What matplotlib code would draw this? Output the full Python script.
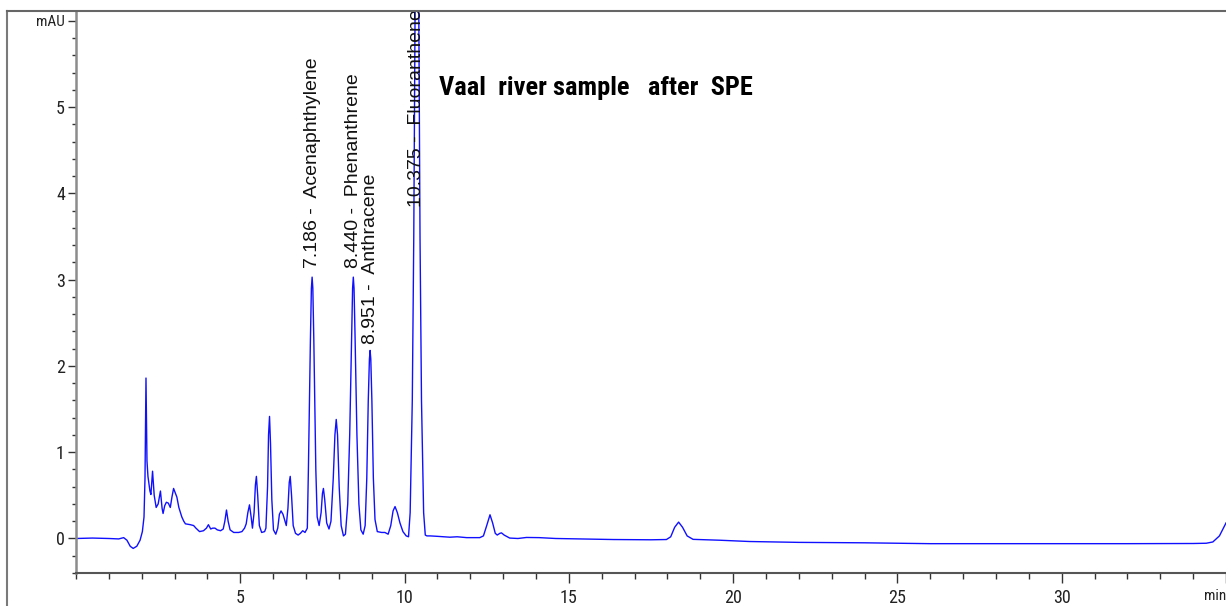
import matplotlib
matplotlib.use("Agg")
import matplotlib.pyplot as plt
from matplotlib import font_manager as fm
from matplotlib.lines import Line2D
from matplotlib.ticker import MultipleLocator, FixedLocator

# ---------------- data ----------------
time_min = [
    0.0, 0.5, 1.0, 1.3, 1.45, 1.55, 1.65, 1.74, 1.85, 1.95, 2.02, 2.07, 2.10, 2.13, 2.16,
    2.19, 2.25, 2.28, 2.33, 2.38, 2.44, 2.50, 2.57, 2.62, 2.65, 2.70, 2.75, 2.81, 2.87,
    2.92, 2.97, 3.03, 3.07, 3.13, 3.22, 3.28, 3.33, 3.48, 3.58, 3.65, 3.76, 3.88, 3.97,
    4.03, 4.10, 4.16, 4.23, 4.30, 4.40, 4.48, 4.53, 4.58, 4.63, 4.69, 4.80, 4.95, 5.05,
    5.13, 5.18, 5.23, 5.28, 5.33, 5.37, 5.42, 5.46, 5.49, 5.53, 5.58, 5.65, 5.74, 5.78,
    5.83, 5.86, 5.89, 5.92, 5.96, 6.01, 6.08, 6.14, 6.19, 6.24, 6.30, 6.36, 6.40, 6.45,
    6.49, 6.52, 6.56, 6.61, 6.68, 6.76, 6.83, 6.90, 6.97, 7.04, 7.073, 7.134, 7.164,
    7.186, 7.208, 7.238, 7.299, 7.34, 7.40, 7.46, 7.50, 7.53, 7.57, 7.63, 7.70, 7.76,
    7.83, 7.88, 7.92, 7.96, 8.01, 8.07, 8.14, 8.20, 8.27, 8.33, 8.39, 8.418, 8.44, 8.462,
    8.49, 8.55, 8.61, 8.67, 8.74, 8.80, 8.85, 8.895, 8.93, 8.951, 8.972, 9.005, 9.05,
    9.10, 9.17, 9.30, 9.40, 9.50, 9.58, 9.65, 9.71, 9.78, 9.86, 9.95, 10.05, 10.12, 10.17,
    10.235, 10.28, 10.317, 10.375, 10.433, 10.47, 10.515, 10.58, 10.63, 10.68, 10.78,
    11.0, 11.38, 11.6, 11.89, 12.29, 12.40, 12.50, 12.60, 12.68, 12.76, 12.82, 12.90,
    12.95, 13.03, 13.2, 13.45, 13.71, 14.1, 14.6, 15.33, 16.35, 17.5, 17.97, 18.1, 18.22,
    18.34, 18.46, 18.6, 18.78, 19.59, 20.5, 22.0, 24.0, 26.0, 28.0, 30.0, 32.0, 34.0,
    34.4, 34.6, 34.8, 35.0,
]
absorbance_mau = [
    0.0, 0.005, 0.0, -0.005, 0.01, -0.02, -0.09, -0.115, -0.09, -0.02, 0.08, 0.25, 0.7, 1.86, 0.9,
    0.72, 0.55, 0.51, 0.78, 0.5, 0.36, 0.40, 0.55, 0.35, 0.29, 0.38, 0.42, 0.41, 0.36,
    0.48, 0.58, 0.52, 0.48, 0.36, 0.25, 0.20, 0.17, 0.16, 0.15, 0.12, 0.08, 0.09, 0.12,
    0.16, 0.11, 0.12, 0.12, 0.10, 0.09, 0.11, 0.20, 0.33, 0.20, 0.10, 0.07, 0.07, 0.08,
    0.12, 0.17, 0.30, 0.39, 0.25, 0.12, 0.30, 0.62, 0.72, 0.50, 0.15, 0.07, 0.08, 0.12,
    0.60, 1.20, 1.415, 1.10, 0.45, 0.10, 0.05, 0.12, 0.28, 0.32, 0.28, 0.20, 0.15, 0.35,
    0.65, 0.72, 0.50, 0.15, 0.06, 0.04, 0.06, 0.09, 0.07, 0.12, 0.80, 2.30, 2.90,
    3.03, 2.90, 2.30, 0.80, 0.25, 0.15, 0.30, 0.52, 0.58, 0.45, 0.18, 0.11, 0.20,
    0.70, 1.20, 1.38, 1.20, 0.60, 0.15, 0.03, 0.05, 0.40, 1.20, 2.40, 2.90, 3.03, 2.90,
    2.40, 1.20, 0.40, 0.10, 0.05, 0.15, 0.70, 1.60, 2.08, 2.18, 2.08, 1.60, 0.70,
    0.22, 0.08, 0.07, 0.07, 0.05, 0.15, 0.32, 0.37, 0.30, 0.18, 0.08, 0.03, 0.02, 0.30,
    1.60, 3.50, 6.10, 8.00, 6.10, 3.50, 1.60, 0.30, 0.04, 0.03, 0.03,
    0.025, 0.015, 0.02, 0.01, 0.01, 0.03, 0.15, 0.275, 0.18, 0.06, 0.04, 0.06,
    0.065, 0.04, 0.005, 0.0, 0.012, 0.01, 0.0, -0.005, -0.012, -0.015, -0.012, 0.02, 0.13,
    0.19, 0.13, 0.03, -0.01, -0.02, -0.035, -0.045, -0.05, -0.06, -0.06, -0.06, -0.06, -0.058,
    -0.055, -0.04, 0.03, 0.18,
]

peak_times = [7.186, 8.440, 8.951, 10.375]
peak_names = ["Acenaphthylene", "Phenanthrene", "Anthracene", "Fluoranthene"]
label_bottoms = [3.13, 3.13, 2.26, 3.84]   # mAU where each rotated label starts

x_major = [5, 10, 15, 20, 25, 30, 35]
x_major_labels = ["5", "10", "15", "20", "25", "30", "min"]
y_major = [0, 1, 2, 3, 4, 5, 6]
y_major_labels = ["0", "1", "2", "3", "4", "5", "mAU"]

title_text = "Vaal  river sample   after  SPE"

# ---------------- fonts ----------------
def _is_condensed(f):
    st = f.stretch
    if "Narrow" in f.name or "Condensed" in f.name:
        return True
    if isinstance(st, str) and "condensed" in st:
        return True
    if isinstance(st, (int, float)) and st < 500:
        return True
    return False

def _wnum(w):
    if isinstance(w, (int, float)):
        return w
    return {"bold": 700, "semibold": 600, "demibold": 600, "heavy": 800,
            "black": 900, "extra bold": 800}.get(str(w).lower(), 400)

cond = [f for f in fm.fontManager.ttflist
        if _is_condensed(f) and f.style == "normal"]
pref = ["Liberation Sans Narrow", "Arial Narrow", "Roboto Condensed",
        "Open Sans Condensed", "Noto Sans", "Open Sans", "Roboto", "DejaVu Sans"]
cond.sort(key=lambda f: pref.index(f.name) if f.name in pref else len(pref))
cond_bold = [f for f in cond if _wnum(f.weight) >= 600]
cond_reg = [f for f in cond if _wnum(f.weight) < 600]

if cond_bold:
    title_fp = fm.FontProperties(fname=cond_bold[0].fname, size=19)
else:
    title_fp = fm.FontProperties(family=["Liberation Sans", "DejaVu Sans"],
                                 weight="bold", size=16)
if cond_reg:
    tick_fp = fm.FontProperties(fname=cond_reg[0].fname, size=13)
    unit_fp = fm.FontProperties(fname=cond_reg[0].fname, size=11)
else:
    tick_fp = fm.FontProperties(family=["Liberation Sans", "DejaVu Sans"], size=12)
    unit_fp = fm.FontProperties(family=["Liberation Sans", "DejaVu Sans"], size=10)
regular_fam = ["Liberation Sans", "DejaVu Sans"]

# ---------------- figure ----------------
W, H = 1226, 606
fig = plt.figure(figsize=(W / 100, H / 100), dpi=100)
fig.patch.set_facecolor("white")

ax_left, ax_right, ax_top, ax_bottom = 76, 1226, 11, 573
ax = fig.add_axes([ax_left / W, 1 - ax_bottom / H,
                   (ax_right - ax_left) / W, (ax_bottom - ax_top) / H])

ax.plot(time_min, absorbance_mau, color="#1010ff", lw=1.0, solid_joinstyle="round")

ax.set_xlim(0, 35)
ax.set_ylim(-0.4, 6.115)

for s in ("top", "right"):
    ax.spines[s].set_visible(False)
ax.spines["left"].set_color("#8c8c8c")
ax.spines["left"].set_linewidth(1.8)
ax.spines["bottom"].set_color("#555555")
ax.spines["bottom"].set_linewidth(1.5)

ax.xaxis.set_major_locator(FixedLocator(x_major))
ax.set_xticklabels(x_major_labels)
ax.xaxis.set_minor_locator(MultipleLocator(1))
ax.yaxis.set_major_locator(FixedLocator(y_major))
ax.set_yticklabels(y_major_labels)
ax.yaxis.set_minor_locator(MultipleLocator(0.2))

ax.tick_params(axis="x", which="major", direction="out", length=7.5, width=1.0,
               color="#333333", pad=4)
ax.tick_params(axis="x", which="minor", direction="out", length=4.5, width=1.0,
               color="#333333")
ax.tick_params(axis="y", which="major", direction="out", length=5.5, width=1.0,
               color="#333333", pad=2.5)
ax.tick_params(axis="y", which="minor", direction="out", length=3.0, width=1.0,
               color="#333333")
for lab in ax.get_xticklabels() + ax.get_yticklabels():
    lab.set_fontproperties(tick_fp)
    lab.set_color("#222222")
ax.get_yticklabels()[-1].set_fontproperties(unit_fp)
ax.get_xticklabels()[-1].set_fontproperties(unit_fp)
ax.get_xticklabels()[-1].set_horizontalalignment("right")

# peak labels
for t, name, yb in zip(peak_times, peak_names, label_bottoms):
    ax.text(t, yb, f"{t:.3f} -  {name}", rotation=90, ha="center", va="bottom",
            fontsize=14, family=regular_fam, color="#111111", clip_on=False)

# title
fig.text(595.5 / W, 1 - 88 / H, title_text, ha="center", va="center",
         fontproperties=title_fp, color="black")

# outer frame lines
fig.add_artist(Line2D([7 / W, 7 / W], [0, 1 - 11 / H], transform=fig.transFigure,
                      color="#7a7a7a", lw=1.5))
fig.add_artist(Line2D([7 / W, 1225 / W], [1 - 11 / H, 1 - 11 / H], transform=fig.transFigure,
                      color="#666666", lw=1.5))

fig.savefig("out.png", dpi=100, facecolor="white")
